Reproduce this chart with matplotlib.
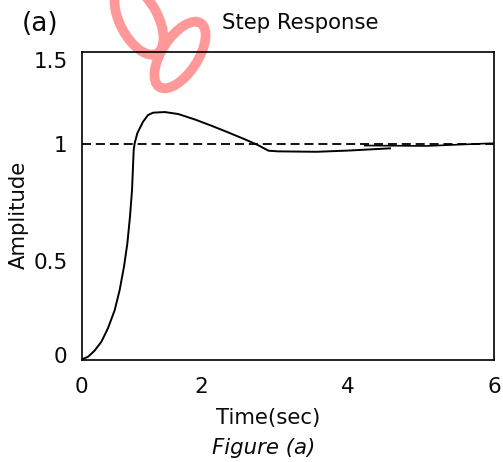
import matplotlib
matplotlib.use("Agg")
import matplotlib.pyplot as plt
from matplotlib.patches import Ellipse

# ---- data ----
t_main = [0.0, 0.007, 0.095, 0.19, 0.29, 0.385, 0.483, 0.555, 0.618, 0.667,
          0.705, 0.735, 0.749, 0.759, 0.773, 0.812, 0.895, 0.967, 1.04, 1.21,
          1.404, 1.646, 1.888, 2.131, 2.374, 2.567, 2.72, 2.858, 3.42, 3.905, 4.487]
y_main = [0.0, 0.003, 0.015, 0.043, 0.085, 0.147, 0.231, 0.324, 0.432, 0.540,
          0.663, 0.787, 0.895, 0.972, 1.003, 1.05, 1.103, 1.134, 1.145, 1.148,
          1.139, 1.114, 1.085, 1.054, 1.022, 0.995, 0.969, 0.966, 0.964, 0.970, 0.98]
t_tail = [4.12, 5.02, 5.94, 6.0]
y_tail = [0.993, 0.991, 1.003, 1.003]
setpoint = 1.0

xtick_pos = [0.0, 1.74, 3.88, 6.0]
xtick_labels = ["0", "2", "4", "6"]
ytick_pos = [0.025, 0.458, 1.0, 1.39]
ytick_labels = ["0", "0.5", "1", "1.5"]

plt.rcParams['font.family'] = ['DejaVu Sans']
fig = plt.figure(figsize=(5.03, 4.62), dpi=100)
W, H = 503, 462

ax = fig.add_axes([81.5 / W, 1 - 360 / H, (494 - 81.5) / W, (360 - 52) / H])
ax.set_facecolor('none')
ax.set_zorder(1)
ax.plot(t_main, y_main, color='black', lw=1.4, solid_joinstyle='round')
ax.plot(t_tail, y_tail, color='black', lw=1.2)
ax.axhline(setpoint, color='black', lw=1.3, linestyle=(0, (5, 2.7)))
ax.set_xlim(0, 6)
ax.set_ylim(0, 1.426)
ax.set_xticks(xtick_pos)
ax.set_xticklabels(xtick_labels)
ax.set_yticks(ytick_pos)
ax.set_yticklabels(ytick_labels)
ax.tick_params(length=0, labelsize=15.5, colors='#0a0a0a')
ax.tick_params(axis='y', pad=10)
ax.tick_params(axis='x', pad=12)
for s in ax.spines.values():
    s.set_linewidth(1.2)

fig.text(22 / W, 1 - 24 / H, "(a)", fontsize=19, ha='left', va='center', color='#0a0a0a')
fig.text(300 / W, 1 - 23 / H, "Step Response", fontsize=15.3, ha='center', va='center', color='#0a0a0a')
fig.text(268 / W, 1 - 418 / H, "Time(sec)", fontsize=15.3, ha='center', va='center', color='#0a0a0a')
fig.text(264 / W, 1 - 448 / H, "Figure (a)", fontsize=15.3, ha='center', va='center',
         style='italic', color='#0a0a0a')
fig.text(19 / W, 1 - 215 / H, "Amplitude", fontsize=15.3, ha='center', va='center',
         rotation=90, color='#0a0a0a')

# watermark overlay in pixel coordinates (behind the plot axes)
wm = fig.add_axes([0, 0, 1, 1])
wm.set_zorder(0)
wm.set_xlim(0, W)
wm.set_ylim(H, 0)
wm.axis('off')
wm.add_patch(Ellipse((139, 20), 76, 38, angle=62, fill=False,
                     edgecolor='#ff9999', lw=7))
wm.add_patch(Ellipse((180, 55), 76, 36, angle=-57, fill=False,
                     edgecolor='#ff9999', lw=7))

fig.savefig("out.png", dpi=100)
